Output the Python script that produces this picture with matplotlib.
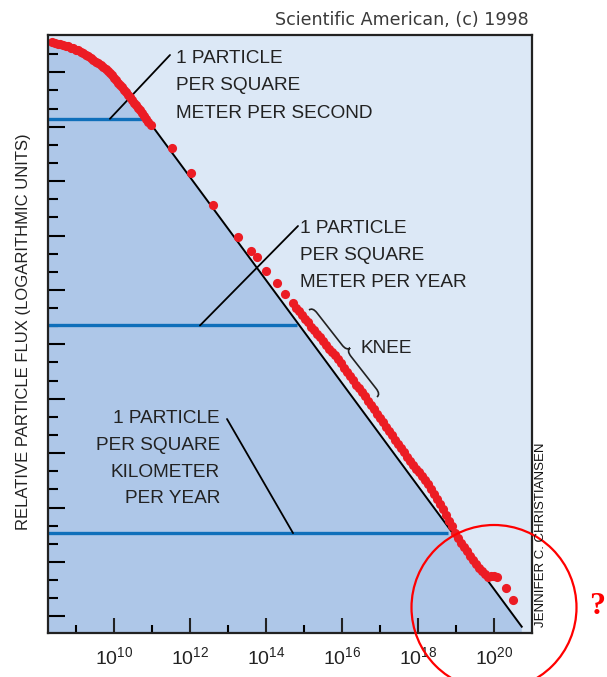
import matplotlib
matplotlib.use("Agg")
import matplotlib.pyplot as plt
from matplotlib.path import Path
from matplotlib.patches import PathPatch, Ellipse
import numpy as np

W, H = 607, 677

# low energy part of the spectrum (log10 E [eV], relative flux in log units)
curve_logE = [8.37, 8.45, 8.53, 8.58, 8.66, 8.74, 8.79, 8.87, 8.92, 9.00,
              9.05, 9.13, 9.18, 9.26, 9.32, 9.39, 9.45, 9.53, 9.58, 9.66,
              9.71, 9.78, 9.83, 9.89, 9.95, 10.00, 10.05, 10.11, 10.16, 10.21,
              10.26, 10.32, 10.37, 10.42, 10.47, 10.53, 10.58, 10.63, 10.68, 10.74,
              10.78, 10.84, 10.89]
curve_flux = [31.68, 31.60, 31.59, 31.57, 31.51, 31.48, 31.43, 31.37, 31.33, 31.26,
              31.21, 31.12, 31.05, 30.96, 30.88, 30.77, 30.68, 30.57, 30.52, 30.38,
              30.31, 30.16, 30.10, 29.94, 29.86, 29.69, 29.58, 29.44, 29.31, 29.17,
              29.03, 28.89, 28.75, 28.62, 28.48, 28.31, 28.20, 28.03, 27.93, 27.76,
              27.57, 27.43, 27.26]

sparse_logE = [10.97, 11.52, 12.02, 12.60, 13.27, 13.60, 13.76, 14.00, 14.28, 14.51]
sparse_flux = [27.09, 25.81, 24.47, 22.69, 20.94, 20.17, 19.80, 19.06, 18.40, 17.78]

knee_logE = [14.71, 14.79, 14.87, 14.95, 15.03, 15.11, 15.18, 15.26, 15.34, 15.42,
             15.50, 15.58, 15.66, 15.74, 15.82, 15.89, 15.97, 16.05, 16.13, 16.21,
             16.29, 16.37, 16.45, 16.53, 16.61, 16.68, 16.76, 16.84, 16.92, 17.00,
             17.08, 17.16, 17.24, 17.32, 17.39, 17.47, 17.55, 17.63, 17.71, 17.79,
             17.87, 17.95, 18.03, 18.11, 18.18, 18.26, 18.34, 18.42, 18.50, 18.58,
             18.66, 18.74, 18.82, 18.89, 18.97, 19.05, 19.13, 19.21, 19.29, 19.37,
             19.45, 19.53, 19.61, 19.68, 19.76]
knee_flux = [17.28, 17.01, 16.84, 16.62, 16.40, 16.23, 15.96, 15.79, 15.57, 15.41,
             15.18, 14.96, 14.74, 14.58, 14.41, 14.19, 13.97, 13.70, 13.47, 13.25,
             13.03, 12.76, 12.59, 12.37, 12.15, 11.88, 11.65, 11.43, 11.16, 10.94,
             10.72, 10.44, 10.22, 10.00, 9.72, 9.50, 9.28, 9.06, 8.79, 8.57,
             8.35, 8.12, 7.96, 7.74, 7.52, 7.30, 7.02, 6.75, 6.47, 6.19,
             5.92, 5.59, 5.26, 4.98, 4.59, 4.32, 4.04, 3.82, 3.60, 3.33,
             3.11, 2.88, 2.66, 2.50, 2.33]

tail_logE = [19.84, 19.92, 20.00, 20.08, 20.32, 20.50]
tail_flux = [2.17, 2.22, 2.22, 2.17, 1.56, 0.90]

# straight power law
fit_logE = [10.90, 20.73]
fit_flux = [27.34, -0.57]

# flux levels: 1 particle per m2 per s, per m2 per year, per km2 per year
level_flux = [27.44, 16.04, 4.59]
level_end_logE = [10.73, 14.81, 18.79]
level_leader_logE = [9.89, 12.26, 14.71]

xtick_exps = [10, 12, 14, 16, 18, 20]

light = "#dce8f6"
dark = "#aec7e8"
red = "#ec1c24"
blue = "#0f6fba"
sans = ["Liberation Sans", "DejaVu Sans"]

plt.rcParams["mathtext.fontset"] = "custom"
plt.rcParams["mathtext.rm"] = "Liberation Sans"
plt.rcParams["mathtext.it"] = "Liberation Sans:italic"
plt.rcParams["mathtext.bf"] = "Liberation Sans:bold"


def fpx(x, y):
    # image pixel (y down) -> figure fraction
    return x / W, 1 - y / H


fig = plt.figure(figsize=(W / 100, H / 100), dpi=100)
ax = fig.add_axes([48 / W, (H - 632.5) / H, 484 / W, 597.5 / H])
ax.set_facecolor(light)
ax.set_xlim(8.26, 21.0)
ax.set_ylim(-0.89, 32.06)

# shaded region under the spectrum
poly_x = [8.26] + curve_logE + fit_logE + [fit_logE[-1], 8.26]
poly_y = [curve_flux[0]] + curve_flux + fit_flux + [-0.89, -0.89]
ax.fill(poly_x, poly_y, color=dark, lw=0, zorder=1)

for lv, le in zip(level_flux, level_end_logE):
    ax.plot([8.26, le], [lv, lv], color=blue, lw=2.4, solid_capstyle="butt", zorder=2)

ax.plot(fit_logE, fit_flux, color="black", lw=1.4, zorder=3)

all_x = curve_logE + sparse_logE + knee_logE + tail_logE
all_y = curve_flux + sparse_flux + knee_flux + tail_flux
ax.plot(all_x, all_y, "o", color=red, ms=6.6, mec="none", zorder=4)

# axes styling
ax.set_xticks(xtick_exps)
ax.set_xticklabels([f"$10^{{{e}}}$" for e in xtick_exps])
ax.set_xticks([9, 11, 13, 15, 17, 19], minor=True)
ax.set_yticks(range(0, 31, 3))
ax.set_yticks(range(0, 32), minor=True)
ax.tick_params(axis="x", which="major", direction="in", length=10.5, width=1.5,
               labelsize=14, pad=10, colors="#222222")
ax.tick_params(axis="x", which="minor", direction="in", length=5.5, width=1.5)
ax.tick_params(axis="y", which="major", direction="in", length=12, width=1.5, labelleft=False)
ax.tick_params(axis="y", which="minor", direction="in", length=7, width=1.5)
for s in ax.spines.values():
    s.set_linewidth(1.6)
    s.set_color("#222222")
    s.set_zorder(5)

# leader lines from labels to the flux levels
leader_start = [(170, 55), (298, 226), (227, 419)]
for (sx, sy), lx, lv in zip(leader_start, level_leader_logE, level_flux):
    ax.annotate("", xy=(lx, lv), xycoords="data", xytext=(sx, H - sy),
                textcoords="figure pixels",
                arrowprops=dict(arrowstyle="-", lw=1.3, color="black",
                                shrinkA=0, shrinkB=0), zorder=3)

txt = dict(fontsize=13.7, family=sans, color="#222222", va="baseline")
for s, y in zip(["1 PARTICLE", "PER SQUARE", "METER PER SECOND"], [63, 90, 118]):
    fig.text(*fpx(176, y), s, ha="left", **txt)
for s, y in zip(["1 PARTICLE", "PER SQUARE", "METER PER YEAR"], [233, 260, 287]):
    fig.text(*fpx(300, y), s, ha="left", **txt)
for s, y in zip(["1 PARTICLE", "PER SQUARE", "KILOMETER", "PER YEAR"], [423, 450, 477, 503]):
    fig.text(*fpx(220, y), s, ha="right", **txt)
fig.text(*fpx(360, 353), "KNEE", ha="left", **txt)

# curly brace marking the knee
A = np.array([309.0, H - 310.0])
B = np.array([377.0, H - 397.0])
L = np.linalg.norm(B - A)
u = (B - A) / L
n = np.array([-u[1], u[0]])
h, w = 9.0, 7.0
local = [(0, 0), (0, h / 2), (w, h / 2), (L / 2 - w, h / 2), (L / 2, h / 2), (L / 2, h),
         (L / 2, h / 2), (L / 2 + w, h / 2), (L - w, h / 2), (L, h / 2), (L, 0)]
codes = [Path.MOVETO, Path.CURVE3, Path.CURVE3, Path.LINETO, Path.CURVE3, Path.CURVE3,
         Path.CURVE3, Path.CURVE3, Path.LINETO, Path.CURVE3, Path.CURVE3]
verts = [((A + t * u + s * n)[0] / W, (A + t * u + s * n)[1] / H) for t, s in local]
fig.add_artist(PathPatch(Path(verts, codes), fc="none", ec="#222222", lw=1.2,
                         transform=fig.transFigure))

fig.text(*fpx(24, 332), "RELATIVE PARTICLE FLUX (LOGARITHMIC UNITS)", rotation=90,
         ha="center", va="center", fontsize=12, family=sans, color="#222222")
fig.text(*fpx(541, 535), "JENNIFER C. CHRISTIANSEN", rotation=90,
         ha="center", va="center", fontsize=9.5, family=sans, color="#111111")
fig.text(*fpx(529, 20), "Scientific American, (c) 1998", ha="right", va="center",
         fontsize=12.6, family="DejaVu Sans", color="#3a3a3a")

# red circle and question mark
fig.add_artist(Ellipse(fpx(494, 607.5), 165 / W, 165 / H, fill=False, ec="red",
                       lw=1.6, transform=fig.transFigure))
fig.text(*fpx(597, 607), "?", ha="center", va="center", fontsize=23,
         family="Liberation Serif", weight="bold", color="red")

fig.savefig("out.png", dpi=100)
